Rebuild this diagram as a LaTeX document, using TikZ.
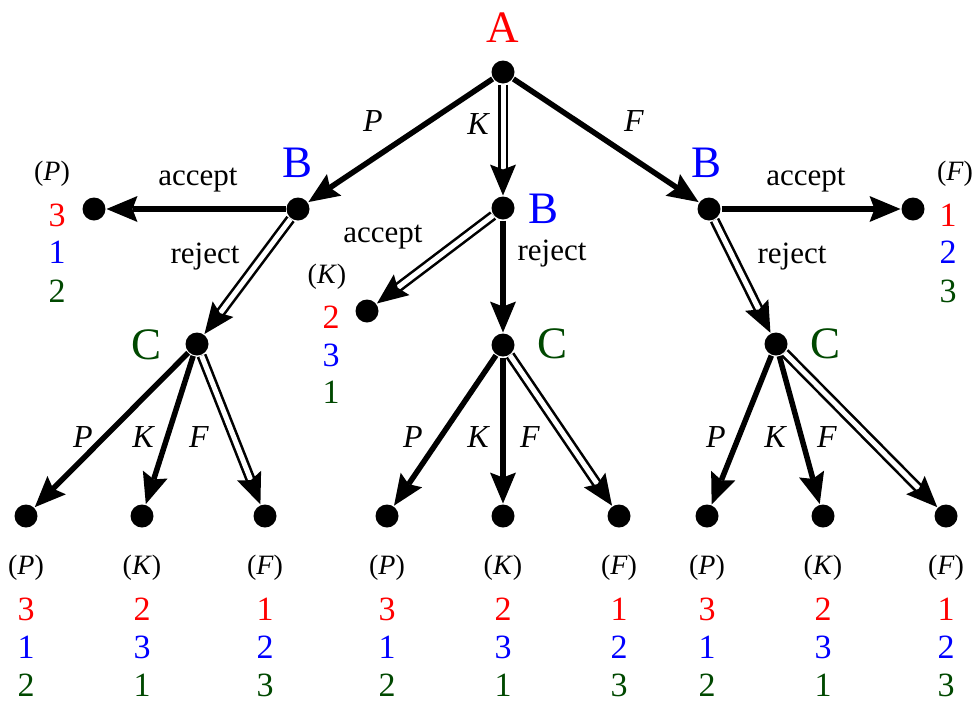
\documentclass[tikz,border=0pt]{standalone}
\usepackage{fontspec}
\setmainfont{Liberation Serif}
\usetikzlibrary{arrows.meta,calc}
\definecolor{pred}{RGB}{255,0,0}
\definecolor{pblue}{RGB}{0,0,255}
\definecolor{pgreen}{RGB}{0,72,0}
\tikzset{
  dot/.style={circle,fill=black,draw=none,minimum size=23pt,inner sep=0pt,outer sep=1pt},
  bigtip/.tip={Stealth[length=31pt,width=26pt,inset=5pt,line width=0pt,color=black]},
  solidedge/.style={line width=5.5pt,-bigtip},
  dblline/.style={line width=2.6pt,double=white,double distance=5pt,shorten >=18pt},
  tiponly/.style={draw=white,line width=2pt,-bigtip},
  player/.style={inner sep=0pt,font=\fontsize{45}{45}\selectfont},
  act/.style={inner sep=0pt,font=\fontsize{31}{31}\selectfont},
  mv/.style={inner sep=0pt,font=\fontsize{32}{32}\selectfont\itshape},
  outc/.style={inner sep=0pt,font=\fontsize{28}{28}\selectfont},
  num/.style={inner sep=0pt,font=\fontsize{34}{34}\selectfont},
}
\newcommand\dbledge[2]{%
  \draw[dblline] (#1) -- (#2);
  \draw[tiponly] ($(#2)!60pt!(#1)$) -- (#2);
}
\begin{document}
\begin{tikzpicture}[x=1pt,y=-1pt]
\useasboundingbox (0,0) rectangle (978,702);
% decision nodes
\node[dot] (A) at (503,72) {};
\node[dot] (B1) at (298,209) {};
\node[dot] (B2) at (503,208) {};
\node[dot] (B3) at (709,209) {};
\node[dot] (L1) at (94,209) {};
\node[dot] (L2) at (367,311) {};
\node[dot] (L3) at (913,209) {};
\node[dot] (C1) at (197,344) {};
\node[dot] (C2) at (503,345) {};
\node[dot] (C3) at (776,344) {};
\node[dot] (c1p) at (26,516) {};
\node[dot] (c1k) at (142,516) {};
\node[dot] (c1f) at (265,516) {};
\node[dot] (c2p) at (387,516) {};
\node[dot] (c2k) at (503,516) {};
\node[dot] (c2f) at (619,516) {};
\node[dot] (c3p) at (707,516) {};
\node[dot] (c3k) at (823,516) {};
\node[dot] (c3f) at (946,516) {};
% player labels
\node[player,text=pred] (labA) at (503,28) {A};
\node[player,text=pblue] (labB1) at (298,163) {B};
\node[player,text=pblue] (labB2) at (544,209) {B};
\node[player,text=pblue] (labB3) at (707,163) {B};
\node[player,text=pgreen] (labC1) at (147,345) {C};
\node[player,text=pgreen] (labC2) at (553,344) {C};
\node[player,text=pgreen] (labC3) at (825,344) {C};
% edges
\draw[solidedge] (A) -- (B1);
\dbledge{A}{B2}
\draw[solidedge] (A) -- (B3);
\draw[solidedge] (B1) -- (L1);
\dbledge{B1}{C1}
\dbledge{B2}{L2}
\draw[solidedge] (B2) -- (C2);
\draw[solidedge] (B3) -- (L3);
\dbledge{B3}{C3}
\draw[solidedge] (C1) -- (c1p);
\draw[solidedge] (C1) -- (c1k);
\dbledge{C1}{c1f}
\draw[solidedge] (C2) -- (c2p);
\draw[solidedge] (C2) -- (c2k);
\dbledge{C2}{c2f}
\draw[solidedge] (C3) -- (c3p);
\draw[solidedge] (C3) -- (c3k);
\dbledge{C3}{c3f}
% edge labels
\node[mv] (eP) at (373,121) {P};
\node[mv] (eK) at (478,124) {K};
\node[mv] (eF) at (634,121) {F};
\node[act] (acc1) at (198,180) {accept};
\node[act] (rej1) at (205,257) {reject};
\node[act] (acc2) at (383,237) {accept};
\node[act] (rej2) at (552,254) {reject};
\node[act] (acc3) at (806,180) {accept};
\node[act] (rej3) at (792,257) {reject};
\node[mv] (m1p) at (83,437) {P};
\node[mv] (m1k) at (143,437) {K};
\node[mv] (m1f) at (199,437) {F};
\node[mv] (m2p) at (413,437) {P};
\node[mv] (m2k) at (478,437) {K};
\node[mv] (m2f) at (530,437) {F};
\node[mv] (m3p) at (716,437) {P};
\node[mv] (m3k) at (775,437) {K};
\node[mv] (m3f) at (827,437) {F};
% outcome labels: side leaves
\node[outc] (o1) at (52,174) {(\textit{P})};
\node[num,text=pred] (o1a) at (57,215) {3};
\node[num,text=pblue] (o1b) at (57,252) {1};
\node[num,text=pgreen] (o1c) at (57,291) {2};
\node[outc] (o2) at (327,277) {(\textit{K})};
\node[num,text=pred] (o2a) at (331,317) {2};
\node[num,text=pblue] (o2b) at (331,355) {3};
\node[num,text=pgreen] (o2c) at (331,392) {1};
\node[outc] (o3) at (955,174) {(\textit{F})};
\node[num,text=pred] (o3a) at (948,215) {1};
\node[num,text=pblue] (o3b) at (948,252) {2};
\node[num,text=pgreen] (o3c) at (948,291) {3};
% outcome labels: bottom leaves
\foreach \x/\n in {26/a,387/b,707/c}{
  \node[outc] (bp\n) at (\x,568) {(\textit{P})};
  \node[num,text=pred] (bp\n1) at (\x,609) {3};
  \node[num,text=pblue] (bp\n2) at (\x,647) {1};
  \node[num,text=pgreen] (bp\n3) at (\x,685) {2};
}
\foreach \x/\n in {142/a,503/b,823/c}{
  \node[outc] (bk\n) at (\x,568) {(\textit{K})};
  \node[num,text=pred] (bk\n1) at (\x,609) {2};
  \node[num,text=pblue] (bk\n2) at (\x,647) {3};
  \node[num,text=pgreen] (bk\n3) at (\x,685) {1};
}
\foreach \x/\n in {265/a,619/b,946/c}{
  \node[outc] (bf\n) at (\x,568) {(\textit{F})};
  \node[num,text=pred] (bf\n1) at (\x,609) {1};
  \node[num,text=pblue] (bf\n2) at (\x,647) {2};
  \node[num,text=pgreen] (bf\n3) at (\x,685) {3};
}
\end{tikzpicture}
\end{document}
